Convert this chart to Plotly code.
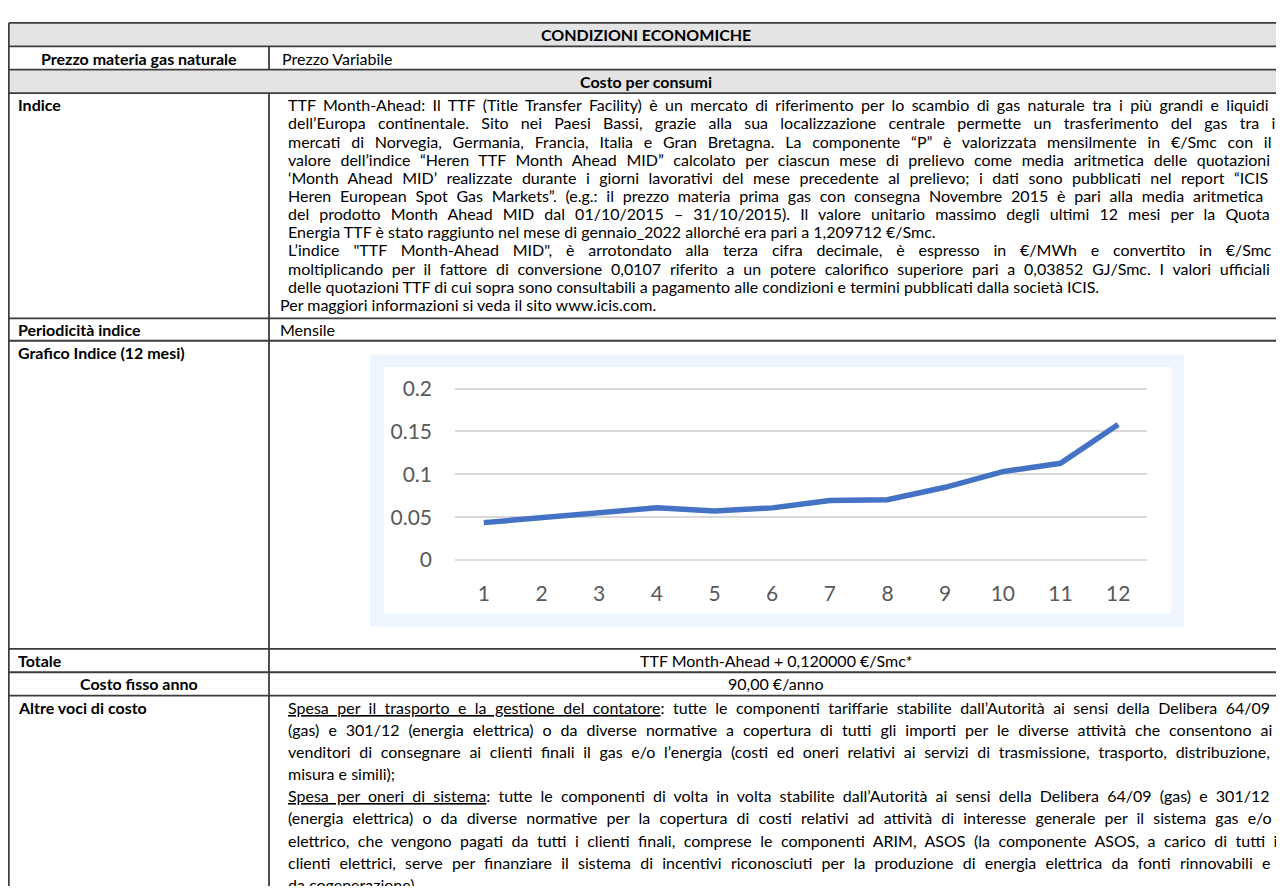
import plotly.graph_objects as go

# ---------------- data ----------------
months = [1, 2, 3, 4, 5, 6, 7, 8, 9, 10, 11, 12]
month_labels = ["1", "2", "3", "4", "5", "6", "7", "8", "9", "10", "11", "12"]
index_values = [0.0437, 0.0497, 0.0549, 0.0609, 0.0572, 0.0609,
                0.0695, 0.0703, 0.0849, 0.1032, 0.1129, 0.1581]
y_tickvals = [0, 0.05, 0.1, 0.15, 0.2]
y_ticktext = ["0", "0.05", "0.1", "0.15", "0.2"]

title_text = "CONDIZIONI ECONOMICHE"
section_text = "Costo per consumi"
row_labels = ["Prezzo materia gas naturale", "Indice", "Periodicità indice",
              "Grafico Indice (12 mesi)", "Totale", "Costo fisso anno", "Altre voci di costo"]
prezzo_value = "Prezzo Variabile"
periodicita_value = "Mensile"
totale_value = "TTF Month-Ahead + 0,120000 €/Smc*"
costo_fisso_value = "90,00 €/anno"

indice_lines = [
    "TTF Month-Ahead: Il TTF (Title Transfer Facility) è un mercato di riferimento per lo scambio di gas naturale tra i più grandi e liquidi",
    "dell’Europa continentale. Sito nei Paesi Bassi, grazie alla sua localizzazione centrale permette un trasferimento del gas tra i",
    "mercati di Norvegia, Germania, Francia, Italia e Gran Bretagna. La componente “P” è valorizzata mensilmente in €/Smc con il",
    "valore dell’indice “Heren TTF Month Ahead MID” calcolato per ciascun mese di prelievo come media aritmetica delle quotazioni",
    "‘Month Ahead MID’ realizzate durante i giorni lavorativi del mese precedente al prelievo; i dati sono pubblicati nel report “ICIS",
    "Heren European Spot Gas Markets”. (e.g.: il prezzo materia prima gas con consegna Novembre 2015 è pari alla media aritmetica",
    "del prodotto Month Ahead MID dal 01/10/2015 – 31/10/2015). Il valore unitario massimo degli ultimi 12 mesi per la Quota",
    "Energia TTF è stato raggiunto nel mese di gennaio_2022 allorché era pari a 1,209712 €/Smc.",
    "L’indice \"TTF Month-Ahead MID\", è arrotondato alla terza cifra decimale, è espresso in €/MWh e convertito in €/Smc",
    "moltiplicando per il fattore di conversione 0,0107 riferito a un potere calorifico superiore pari a 0,03852 GJ/Smc. I valori ufficiali",
    "delle quotazioni TTF di cui sopra sono consultabili a pagamento alle condizioni e termini pubblicati dalla società ICIS.",
]
indice_last_line = "Per maggiori informazioni si veda il sito www.icis.com."

altre_lines = [
    ("Spesa per il trasporto e la gestione del contatore", ": tutte le componenti tariffarie stabilite dall’Autorità ai sensi della Delibera 64/09"),
    ("", "(gas) e 301/12 (energia elettrica) o da diverse normative a copertura di tutti gli importi per le diverse attività che consentono ai"),
    ("", "venditori di consegnare ai clienti finali il gas e/o l’energia (costi ed oneri relativi ai servizi di trasmissione, trasporto, distribuzione,"),
    ("", "misura e simili);"),
    ("Spesa per oneri di sistema", ": tutte le componenti di volta in volta stabilite dall’Autorità ai sensi della Delibera 64/09 (gas) e 301/12"),
    ("", "(energia elettrica) o da diverse normative per la copertura di costi relativi ad attività di interesse generale per il sistema gas e/o"),
    ("", "elettrico, che vengono pagati da tutti i clienti finali, comprese le componenti ARIM, ASOS (la componente ASOS, a carico di tutti i"),
    ("", "clienti elettrici, serve per finanziare il sistema di incentivi riconosciuti per la produzione di energia elettrica da fonti rinnovabili e"),
    ("", "da cogenerazione)."),
]

# ---------------- layout / style ----------------
OFF = 8            # body margin of the html page
W, H = 1268, 878   # figure size so that the page is exactly 1284 x 894


def px(x):
    return (x - OFF) / W


def py(y):
    return 1 - (y - OFF) / H


FONT = "Lato"
TXT = "#000000"
BORDER = "#3C3C3C"
GRAY = "#E4E4E4"
BODY = 16
BOLD = 16

# natural text widths (px at 14px Lato, measured) used to justify lines; None = not justified
indice_w14 = [795, 740.5, 757, 779.5, 772, 784, 762, None, 717, 784, None]
altre_w14 = [790, 772, 786, None, 787, 769.5, 781.5, 777, None]
JUST_W = 985       # justified line width in px

x_left, x_div, x_right = 8.8, 269, 1290
y_top, y_r1, y_r2, y_r3 = 11, 35, 59, 83
y_ind, y_per, y_graf = 314, 337, 653
y_tot, y_cf, y_end = 677, 701, 950

fig = go.Figure()

shapes = []
for (a, b) in [(y_top, y_r1), (y_r2, y_r3)]:
    shapes.append(dict(type="rect", xref="paper", yref="paper", x0=px(x_left), x1=px(x_right),
                       y0=py(b), y1=py(a), fillcolor=GRAY, line=dict(width=0), layer="below"))
for y in [y_top, y_r1, y_r2, y_r3, y_ind, y_per, y_graf, y_tot, y_cf]:
    shapes.append(dict(type="line", xref="paper", yref="paper", x0=px(x_left), x1=px(x_right),
                       y0=py(y), y1=py(y), line=dict(color=BORDER, width=1.8)))
shapes.append(dict(type="line", xref="paper", yref="paper", x0=px(x_left), x1=px(x_left),
                   y0=py(y_top), y1=py(y_end), line=dict(color=BORDER, width=1.8)))
for (a, b) in [(y_r1, y_r2), (y_r3, y_end)]:
    shapes.append(dict(type="line", xref="paper", yref="paper", x0=px(x_div), x1=px(x_div),
                       y0=py(a), y1=py(b), line=dict(color=BORDER, width=1.8)))
# chart frame (light blue) and white plot background
shapes.append(dict(type="rect", xref="paper", yref="paper", x0=px(370), x1=px(1184),
                   y0=py(630), y1=py(351), fillcolor="#EEF5FD", line=dict(width=0), layer="below"))
shapes.append(dict(type="rect", xref="paper", yref="paper", x0=px(384), x1=px(1171),
                   y0=py(617), y1=py(364), fillcolor="#FFFFFF", line=dict(width=0), layer="below"))

ann = []


def text(x, y, s, anchor="left", bold=False, size=BODY):
    ann.append(dict(xref="paper", yref="paper", x=px(x), y=py(y), text=("<b>%s</b>" % s) if bold else s,
                    showarrow=False, xanchor=anchor, yanchor="middle",
                    font=dict(family=FONT, size=size, color=TXT)))


def justified(s, w14, plain):
    if w14 is None:
        return s
    natural = w14 * BODY / 14.0
    n = plain.count(" ")
    ws = max(0.0, (JUST_W - natural) / max(n, 1))
    return "<span style='word-spacing:%.2fpx'>%s</span>" % (ws, s)


text((x_left + 1283) / 2, (y_top + y_r1) / 2, title_text, "center", True, BOLD)
text((x_left + x_div) / 2, (y_r1 + y_r2) / 2, row_labels[0], "center", True, BOLD)
text(280, (y_r1 + y_r2) / 2, prezzo_value)
text((x_left + 1283) / 2, (y_r2 + y_r3) / 2, section_text, "center", True, BOLD)

ind_y0, ind_dy = 95, 18.6
text(16, ind_y0, row_labels[1], bold=True, size=BOLD)
for i, line in enumerate(indice_lines):
    text(286, ind_y0 + i * ind_dy, justified(line, indice_w14[i], line))
text(278, ind_y0 + len(indice_lines) * ind_dy, indice_last_line)

text(16, (y_ind + y_per) / 2, row_labels[2], bold=True, size=BOLD)
text(278, (y_ind + y_per) / 2, periodicita_value)

text(16, y_per + 12, row_labels[3], bold=True, size=BOLD)

text(16, (y_graf + y_tot) / 2, row_labels[4], bold=True, size=BOLD)
text((x_div + 1283) / 2, (y_graf + y_tot) / 2, totale_value, "center")
text((x_left + x_div) / 2, (y_tot + y_cf) / 2, row_labels[5], "center", True, BOLD)
text((x_div + 1283) / 2, (y_tot + y_cf) / 2, costo_fisso_value, "center")

alt_y0, alt_dy = 713, 22.7
text(16, alt_y0, row_labels[6], bold=True, size=BOLD)
for i, (u, rest) in enumerate(altre_lines):
    s = ("<u>%s</u>%s" % (u, rest)) if u else rest
    text(286, alt_y0 + i * alt_dy, justified(s, altre_w14[i], u + rest))

# ---------------- chart ----------------
fig.add_trace(go.Scatter(x=months, y=index_values, mode="lines",
                         line=dict(color="#4472C4", width=5.5), hoverinfo="skip",
                         showlegend=False, cliponaxis=False))

y_lo, y_hi = -0.002, 0.202
zero_px, per_unit = 562, 880.0
fig.update_layout(
    width=W, height=H, margin=dict(l=0, r=0, t=0, b=0),
    paper_bgcolor="white", plot_bgcolor="rgba(0,0,0,0)",
    shapes=shapes, annotations=ann, showlegend=False,
    xaxis=dict(domain=[px(455), px(1147)], range=[0.5, 12.5], tickvals=months, ticktext=month_labels,
               showgrid=False, zeroline=False, showline=False, ticks="",
               tickfont=dict(family=FONT, size=21, color="#595959"), ticklabelstandoff=17),
    yaxis=dict(domain=[py(zero_px - y_lo * per_unit), py(zero_px - y_hi * per_unit)], range=[y_lo, y_hi],
               tickvals=y_tickvals, ticktext=y_ticktext, showgrid=True, gridcolor="#D9D9D9", gridwidth=1.6,
               zeroline=False, showline=False, ticks="",
               tickfont=dict(family=FONT, size=21, color="#595959"), ticklabelstandoff=22),
)

fig.write_html("out.html")
